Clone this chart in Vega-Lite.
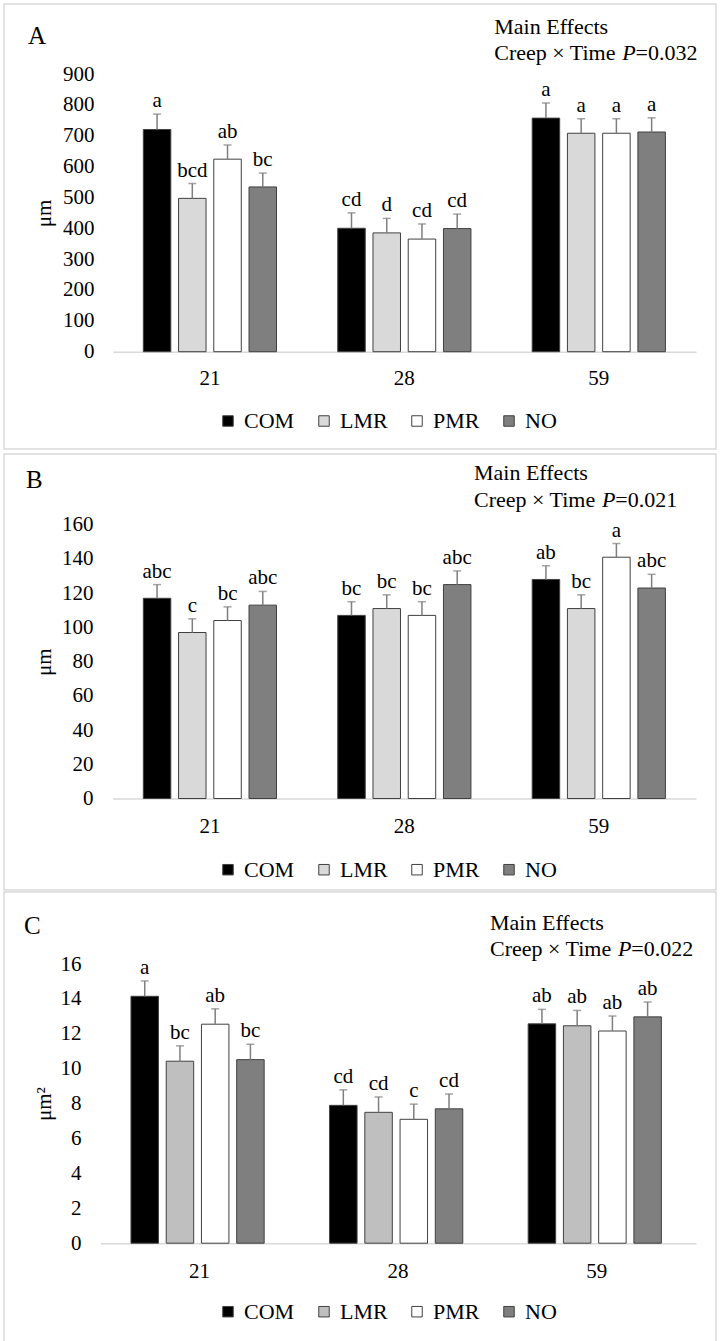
{
  "$schema": "https://vega.github.io/schema/vega-lite/v6.json",
  "padding": {"left": 3, "top": 3, "right": 0, "bottom": 0},
  "background": "white",
  "spacing": 3,
  "config": {
    "view": {"stroke": "#d9d9d9", "strokeWidth": 1.5},
    "font": "Liberation Serif",
    "axis": {"labelFont": "Liberation Serif", "titleFont": "Liberation Serif", "labelColor": "#000000", "titleColor": "#000000", "labelFontSize": 21, "titleFontSize": 21, "titleFontWeight": "normal", "grid": false, "ticks": false, "tickSize": 0},
    "legend": {"labelFont": "Liberation Serif", "labelFontSize": 22, "labelColor": "#000000"},
    "text": {"font": "Liberation Serif", "color": "#000000"}
  },
  "datasets": {
    "A": [
      {"day": "21", "creep": "COM", "value": 720, "upper": 770, "sig": "a"},
      {"day": "21", "creep": "LMR", "value": 497, "upper": 545, "sig": "bcd"},
      {"day": "21", "creep": "PMR", "value": 624, "upper": 670, "sig": "ab"},
      {"day": "21", "creep": "NO", "value": 534, "upper": 579, "sig": "bc"},
      {"day": "28", "creep": "COM", "value": 400, "upper": 450, "sig": "cd"},
      {"day": "28", "creep": "LMR", "value": 385, "upper": 432, "sig": "d"},
      {"day": "28", "creep": "PMR", "value": 365, "upper": 414, "sig": "cd"},
      {"day": "28", "creep": "NO", "value": 399, "upper": 446, "sig": "cd"},
      {"day": "59", "creep": "COM", "value": 757, "upper": 806, "sig": "a"},
      {"day": "59", "creep": "LMR", "value": 708, "upper": 755, "sig": "a"},
      {"day": "59", "creep": "PMR", "value": 708, "upper": 755, "sig": "a"},
      {"day": "59", "creep": "NO", "value": 712, "upper": 758, "sig": "a"}
    ],
    "B": [
      {"day": "21", "creep": "COM", "value": 117, "upper": 125, "sig": "abc"},
      {"day": "21", "creep": "LMR", "value": 97, "upper": 105, "sig": "c"},
      {"day": "21", "creep": "PMR", "value": 104, "upper": 112, "sig": "bc"},
      {"day": "21", "creep": "NO", "value": 113, "upper": 121, "sig": "abc"},
      {"day": "28", "creep": "COM", "value": 107, "upper": 115, "sig": "bc"},
      {"day": "28", "creep": "LMR", "value": 111, "upper": 119, "sig": "bc"},
      {"day": "28", "creep": "PMR", "value": 107, "upper": 115, "sig": "bc"},
      {"day": "28", "creep": "NO", "value": 125, "upper": 133, "sig": "abc"},
      {"day": "59", "creep": "COM", "value": 128, "upper": 136, "sig": "ab"},
      {"day": "59", "creep": "LMR", "value": 111, "upper": 119, "sig": "bc"},
      {"day": "59", "creep": "PMR", "value": 141, "upper": 149, "sig": "a"},
      {"day": "59", "creep": "NO", "value": 123, "upper": 131, "sig": "abc"}
    ],
    "C": [
      {"day": "21", "creep": "COM", "value": 14.15, "upper": 15.03, "sig": "a"},
      {"day": "21", "creep": "LMR", "value": 10.43, "upper": 11.31, "sig": "bc"},
      {"day": "21", "creep": "PMR", "value": 12.55, "upper": 13.43, "sig": "ab"},
      {"day": "21", "creep": "NO", "value": 10.52, "upper": 11.4, "sig": "bc"},
      {"day": "28", "creep": "COM", "value": 7.9, "upper": 8.79, "sig": "cd"},
      {"day": "28", "creep": "LMR", "value": 7.5, "upper": 8.38, "sig": "cd"},
      {"day": "28", "creep": "PMR", "value": 7.1, "upper": 7.97, "sig": "c"},
      {"day": "28", "creep": "NO", "value": 7.7, "upper": 8.55, "sig": "cd"},
      {"day": "59", "creep": "COM", "value": 12.57, "upper": 13.4, "sig": "ab"},
      {"day": "59", "creep": "LMR", "value": 12.46, "upper": 13.34, "sig": "ab"},
      {"day": "59", "creep": "PMR", "value": 12.16, "upper": 13.02, "sig": "ab"},
      {"day": "59", "creep": "NO", "value": 12.97, "upper": 13.82, "sig": "ab"}
    ]
  },
  "resolve": {"scale": {"color": "independent", "x": "independent", "y": "independent"}, "legend": {"color": "independent"}},
  "vconcat": [
    {
      "width": 712, "height": 445,
      "data": {"name": "A"},
      "layer": [
        {
          "mark": {"type": "bar", "stroke": "#404040", "strokeWidth": 1},
          "encoding": {
            "x": {"field": "day", "type": "nominal", "scale": {"range": [108.7, 692], "paddingInner": 0.315, "paddingOuter": 0.1575},
                  "axis": {"title": null, "offset": -97.3, "domainColor": "#d9d9d9", "domainWidth": 1.5, "labelAngle": 0, "labelBaseline": "middle", "labelPadding": 27}},
            "xOffset": {"field": "creep", "type": "nominal", "sort": ["COM", "LMR", "PMR", "NO"], "scale": {"paddingInner": 0.22, "paddingOuter": 0}},
            "y": {"field": "value", "type": "quantitative", "scale": {"domain": [0, 900], "range": [347.7, 70], "nice": false},
                  "axis": {"title": "μm", "offset": -93, "domain": false, "labelPadding": 3, "values": [0, 100, 200, 300, 400, 500, 600, 700, 800, 900], "titleAngle": -90, "titleX": -47, "titleY": 208.9, "titleAlign": "center", "titleBaseline": "alphabetic"}},
            "color": {"field": "creep", "type": "nominal", "sort": ["COM", "LMR", "PMR", "NO"],
                      "scale": {"domain": ["COM", "LMR", "PMR", "NO"], "range": ["#000000", "#d9d9d9", "#ffffff", "#7f7f7f"]},
                      "legend": {"title": null, "orient": "none", "legendX": 213, "legendY": 406, "direction": "horizontal", "columns": 4, "symbolType": "square", "symbolSize": 110, "symbolStrokeColor": "#404040", "symbolStrokeWidth": 1, "labelOffset": 5, "columnPadding": 18, "padding": 0,
                                 "encode": {"symbols": {"update": {"stroke": {"value": "#404040"}, "strokeWidth": {"value": 1}}}}}}
          }
        },
        {
          "mark": {"type": "rule", "color": "#7f7f7f", "strokeWidth": 1.5},
          "encoding": {
            "x": {"field": "day", "type": "nominal"},
            "xOffset": {"field": "creep", "type": "nominal", "sort": ["COM", "LMR", "PMR", "NO"]},
            "y": {"field": "value", "type": "quantitative"},
            "y2": {"field": "upper"}
          }
        },
        {
          "mark": {"type": "tick", "orient": "horizontal", "size": 8, "thickness": 1.5, "color": "#7f7f7f"},
          "encoding": {
            "x": {"field": "day", "type": "nominal"},
            "xOffset": {"field": "creep", "type": "nominal", "sort": ["COM", "LMR", "PMR", "NO"]},
            "y": {"field": "upper", "type": "quantitative"}
          }
        },
        {
          "mark": {"type": "text", "baseline": "alphabetic", "dy": -7, "fontSize": 21},
          "encoding": {
            "x": {"field": "day", "type": "nominal"},
            "xOffset": {"field": "creep", "type": "nominal", "sort": ["COM", "LMR", "PMR", "NO"]},
            "y": {"field": "upper", "type": "quantitative"},
            "text": {"field": "sig"}
          }
        },
        {
          "data": {"values": [{}]},
          "mark": {"type": "text", "align": "left", "baseline": "middle", "fontSize": 25, "dx": -181.9, "text": "A"},
          "encoding": {"x": {"datum": "21"}, "y": {"datum": 1023.1, "type": "quantitative"}}
        },
        {
          "data": {"values": [{}]},
          "mark": {"type": "text", "align": "left", "baseline": "alphabetic", "fontSize": 22, "dx": -104.5, "text": "Main Effects"},
          "encoding": {"x": {"datum": "59"}, "y": {"datum": 1028.6, "type": "quantitative"}}
        },
        {
          "data": {"values": [{}]},
          "mark": {"type": "text", "align": "left", "baseline": "alphabetic", "fontSize": 22, "dx": -104.5, "text": "Creep × Time"},
          "encoding": {"x": {"datum": "59"}, "y": {"datum": 944.4, "type": "quantitative"}}
        },
        {
          "data": {"values": [{}]},
          "mark": {"type": "text", "align": "left", "baseline": "alphabetic", "fontSize": 22, "fontStyle": "italic", "dx": 23.4, "text": "P"},
          "encoding": {"x": {"datum": "59"}, "y": {"datum": 944.4, "type": "quantitative"}}
        },
        {
          "data": {"values": [{}]},
          "mark": {"type": "text", "align": "left", "baseline": "alphabetic", "fontSize": 22, "dx": 36.8, "text": "=0.032"},
          "encoding": {"x": {"datum": "59"}, "y": {"datum": 944.4, "type": "quantitative"}}
        }
      ]
    },
    {
      "spacing": 0,
      "resolve": {"scale": {"color": "independent", "x": "independent", "y": "independent"}, "legend": {"color": "independent"}},
      "vconcat": [
        {
          "width": 712, "height": 436,
          "data": {"name": "B"},
          "layer": [
            {
              "mark": {"type": "bar", "stroke": "#404040", "strokeWidth": 1},
              "encoding": {
                "x": {"field": "day", "type": "nominal", "scale": {"range": [108.7, 692], "paddingInner": 0.315, "paddingOuter": 0.1575},
                      "axis": {"title": null, "offset": -91.5, "domainColor": "#d9d9d9", "domainWidth": 1.5, "labelAngle": 0, "labelBaseline": "middle", "labelPadding": 28}},
                "xOffset": {"field": "creep", "type": "nominal", "sort": ["COM", "LMR", "PMR", "NO"], "scale": {"paddingInner": 0.22, "paddingOuter": 0}},
                "y": {"field": "value", "type": "quantitative", "scale": {"domain": [0, 160], "range": [344.5, 70.7], "nice": false},
                      "axis": {"title": "μm", "offset": -92, "domain": false, "labelPadding": 3, "values": [0, 20, 40, 60, 80, 100, 120, 140, 160], "titleAngle": -90, "titleX": -46, "titleY": 207.6, "titleAlign": "center", "titleBaseline": "alphabetic"}},
                "color": {"field": "creep", "type": "nominal", "sort": ["COM", "LMR", "PMR", "NO"],
                          "scale": {"domain": ["COM", "LMR", "PMR", "NO"], "range": ["#000000", "#d9d9d9", "#ffffff", "#7f7f7f"]},
                          "legend": {"title": null, "orient": "none", "legendX": 213, "legendY": 404.7, "direction": "horizontal", "columns": 4, "symbolType": "square", "symbolSize": 110, "symbolStrokeColor": "#404040", "symbolStrokeWidth": 1, "labelOffset": 5, "columnPadding": 18, "padding": 0,
                                     "encode": {"symbols": {"update": {"stroke": {"value": "#404040"}, "strokeWidth": {"value": 1}}}}}}
              }
            },
            {
              "mark": {"type": "rule", "color": "#7f7f7f", "strokeWidth": 1.5},
              "encoding": {
                "x": {"field": "day", "type": "nominal"},
                "xOffset": {"field": "creep", "type": "nominal", "sort": ["COM", "LMR", "PMR", "NO"]},
                "y": {"field": "value", "type": "quantitative"},
                "y2": {"field": "upper"}
              }
            },
            {
              "mark": {"type": "tick", "orient": "horizontal", "size": 8, "thickness": 1.5, "color": "#7f7f7f"},
              "encoding": {
                "x": {"field": "day", "type": "nominal"},
                "xOffset": {"field": "creep", "type": "nominal", "sort": ["COM", "LMR", "PMR", "NO"]},
                "y": {"field": "upper", "type": "quantitative"}
              }
            },
            {
              "mark": {"type": "text", "baseline": "alphabetic", "dy": -7, "fontSize": 21},
              "encoding": {
                "x": {"field": "day", "type": "nominal"},
                "xOffset": {"field": "creep", "type": "nominal", "sort": ["COM", "LMR", "PMR", "NO"]},
                "y": {"field": "upper", "type": "quantitative"},
                "text": {"field": "sig"}
              }
            },
            {
              "data": {"values": [{}]},
              "mark": {"type": "text", "align": "left", "baseline": "middle", "fontSize": 25, "dx": -183.9, "text": "B"},
              "encoding": {"x": {"datum": "21"}, "y": {"datum": 186.3, "type": "quantitative"}}
            },
            {
              "data": {"values": [{}]},
              "mark": {"type": "text", "align": "left", "baseline": "alphabetic", "fontSize": 22, "dx": -124.8, "text": "Main Effects"},
              "encoding": {"x": {"datum": "59"}, "y": {"datum": 185.9, "type": "quantitative"}}
            },
            {
              "data": {"values": [{}]},
              "mark": {"type": "text", "align": "left", "baseline": "alphabetic", "fontSize": 22, "dx": -124.8, "text": "Creep × Time"},
              "encoding": {"x": {"datum": "59"}, "y": {"datum": 170.5, "type": "quantitative"}}
            },
            {
              "data": {"values": [{}]},
              "mark": {"type": "text", "align": "left", "baseline": "alphabetic", "fontSize": 22, "fontStyle": "italic", "dx": 3.1, "text": "P"},
              "encoding": {"x": {"datum": "59"}, "y": {"datum": 170.5, "type": "quantitative"}}
            },
            {
              "data": {"values": [{}]},
              "mark": {"type": "text", "align": "left", "baseline": "alphabetic", "fontSize": 22, "dx": 16.5, "text": "=0.021"},
              "encoding": {"x": {"datum": "59"}, "y": {"datum": 170.5, "type": "quantitative"}}
            }
          ]
        },
        {
          "width": 712, "height": 451,
          "data": {"name": "C"},
          "layer": [
            {
              "mark": {"type": "bar", "stroke": "#404040", "strokeWidth": 1},
              "encoding": {
                "x": {"field": "day", "type": "nominal", "scale": {"range": [96.2, 692], "paddingInner": 0.31, "paddingOuter": 0.155},
                      "axis": {"title": null, "offset": -99.8, "domainColor": "#d9d9d9", "domainWidth": 1.5, "labelAngle": 0, "labelBaseline": "middle", "labelPadding": 28}},
                "xOffset": {"field": "creep", "type": "nominal", "sort": ["COM", "LMR", "PMR", "NO"], "scale": {"paddingInner": 0.21, "paddingOuter": 0}},
                "y": {"field": "value", "type": "quantitative", "scale": {"domain": [0, 16], "range": [351.2, 72], "nice": false},
                      "axis": {"title": "μm²", "offset": -80, "domain": false, "labelPadding": 3, "values": [0, 2, 4, 6, 8, 10, 12, 14, 16], "titleAngle": -90, "titleX": -34, "titleY": 211.6, "titleAlign": "center", "titleBaseline": "alphabetic"}},
                "color": {"field": "creep", "type": "nominal", "sort": ["COM", "LMR", "PMR", "NO"],
                          "scale": {"domain": ["COM", "LMR", "PMR", "NO"], "range": ["#000000", "#bfbfbf", "#ffffff", "#7f7f7f"]},
                          "legend": {"title": null, "orient": "none", "legendX": 213, "legendY": 408.7, "direction": "horizontal", "columns": 4, "symbolType": "square", "symbolSize": 110, "symbolStrokeColor": "#404040", "symbolStrokeWidth": 1, "labelOffset": 5, "columnPadding": 18, "padding": 0,
                                     "encode": {"symbols": {"update": {"stroke": {"value": "#404040"}, "strokeWidth": {"value": 1}}}}}}
              }
            },
            {
              "mark": {"type": "rule", "color": "#7f7f7f", "strokeWidth": 1.5},
              "encoding": {
                "x": {"field": "day", "type": "nominal"},
                "xOffset": {"field": "creep", "type": "nominal", "sort": ["COM", "LMR", "PMR", "NO"]},
                "y": {"field": "value", "type": "quantitative"},
                "y2": {"field": "upper"}
              }
            },
            {
              "mark": {"type": "tick", "orient": "horizontal", "size": 8, "thickness": 1.5, "color": "#7f7f7f"},
              "encoding": {
                "x": {"field": "day", "type": "nominal"},
                "xOffset": {"field": "creep", "type": "nominal", "sort": ["COM", "LMR", "PMR", "NO"]},
                "y": {"field": "upper", "type": "quantitative"}
              }
            },
            {
              "mark": {"type": "text", "baseline": "alphabetic", "dy": -7, "fontSize": 21},
              "encoding": {
                "x": {"field": "day", "type": "nominal"},
                "xOffset": {"field": "creep", "type": "nominal", "sort": ["COM", "LMR", "PMR", "NO"]},
                "y": {"field": "upper", "type": "quantitative"},
                "text": {"field": "sig"}
              }
            },
            {
              "data": {"values": [{}]},
              "mark": {"type": "text", "align": "left", "baseline": "middle", "fontSize": 25, "dx": -175.5, "text": "C"},
              "encoding": {"x": {"datum": "21"}, "y": {"datum": 18.18, "type": "quantitative"}}
            },
            {
              "data": {"values": [{}]},
              "mark": {"type": "text", "align": "left", "baseline": "alphabetic", "fontSize": 22, "dx": -106.7, "text": "Main Effects"},
              "encoding": {"x": {"datum": "59"}, "y": {"datum": 17.93, "type": "quantitative"}}
            },
            {
              "data": {"values": [{}]},
              "mark": {"type": "text", "align": "left", "baseline": "alphabetic", "fontSize": 22, "dx": -106.7, "text": "Creep × Time"},
              "encoding": {"x": {"datum": "59"}, "y": {"datum": 16.44, "type": "quantitative"}}
            },
            {
              "data": {"values": [{}]},
              "mark": {"type": "text", "align": "left", "baseline": "alphabetic", "fontSize": 22, "fontStyle": "italic", "dx": 21.2, "text": "P"},
              "encoding": {"x": {"datum": "59"}, "y": {"datum": 16.44, "type": "quantitative"}}
            },
            {
              "data": {"values": [{}]},
              "mark": {"type": "text", "align": "left", "baseline": "alphabetic", "fontSize": 22, "dx": 34.6, "text": "=0.022"},
              "encoding": {"x": {"datum": "59"}, "y": {"datum": 16.44, "type": "quantitative"}}
            }
          ]
        }
      ]
    }
  ]
}
